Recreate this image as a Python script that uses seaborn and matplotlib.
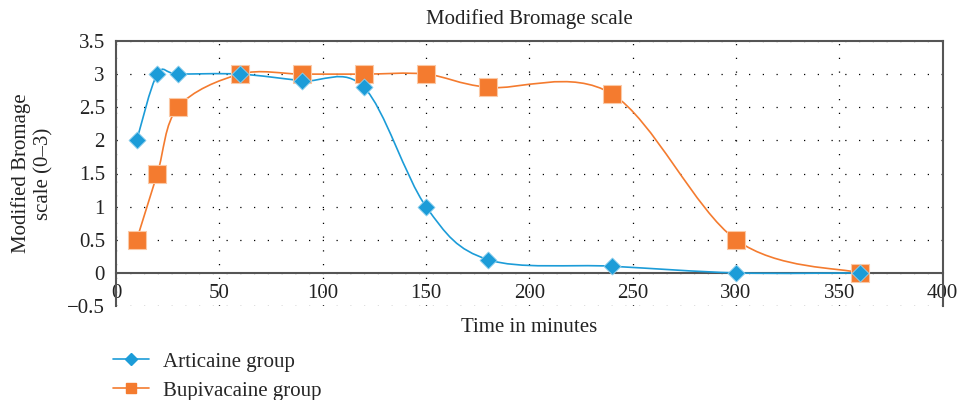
import numpy as np
import pandas as pd
import seaborn as sns
import matplotlib.pyplot as plt
from matplotlib.path import Path
from matplotlib.patches import PathPatch
from matplotlib.lines import Line2D

# data
art_time = [10, 20, 30, 60, 90, 120, 150, 180, 240, 300, 360]
art_score = [2, 3, 3, 3, 2.9, 2.8, 1, 0.2, 0.1, 0, 0]
bup_time = [10, 20, 30, 60, 90, 120, 150, 180, 240, 300, 360]
bup_score = [0.5, 1.5, 2.5, 3, 3, 3, 3, 2.8, 2.7, 0.5, 0]

BLUE = '#1c9cd8'
ORANGE = '#f47b2f'
TXT = '#222222'
FS = 15

sns.set_style('white')
plt.rcParams['font.family'] = ['Liberation Serif', 'DejaVu Serif']


def smooth_path(x, y):
    # Excel-style smoothed line: cubic Bezier through the points
    pts = np.column_stack([x, y]).astype(float)
    verts = [pts[0]]
    codes = [Path.MOVETO]
    n = len(pts)
    for i in range(n - 1):
        p0 = pts[i - 1] if i > 0 else pts[i]
        p1 = pts[i]
        p2 = pts[i + 1]
        p3 = pts[i + 2] if i + 2 < n else pts[i + 1]
        c1 = p1 + (p2 - p0) / 6
        c2 = p2 - (p3 - p1) / 6
        verts += [c1, c2, p2]
        codes += [Path.CURVE4] * 3
    return Path(verts, codes)


df = pd.concat([
    pd.DataFrame({'Time': art_time, 'Score': art_score, 'Group': 'Articaine group'}),
    pd.DataFrame({'Time': bup_time, 'Score': bup_score, 'Group': 'Bupivacaine group'}),
])

fig = plt.figure(figsize=(9.59, 4.0), dpi=100)
ax = fig.add_axes([0.121, 0.235, 0.862, 0.6625])

# smoothed lines
for x, y, c in [(art_time, art_score, BLUE), (bup_time, bup_score, ORANGE)]:
    ax.add_patch(PathPatch(smooth_path(x, y), facecolor='none', edgecolor=c, lw=1.2, zorder=3))

# markers
sns.scatterplot(data=df[df.Group == 'Bupivacaine group'], x='Time', y='Score', marker='s',
                s=150, color=ORANGE, edgecolor='#fbc9a6', linewidth=0.8, ax=ax, zorder=4, legend=False)
sns.scatterplot(data=df[df.Group == 'Articaine group'], x='Time', y='Score', marker='D',
                s=75, color=BLUE, edgecolor='#8fd0ee', linewidth=0.6, ax=ax, zorder=5, legend=False)

ax.set_xlim(0, 400)
ax.set_ylim(-0.5, 3.5)
ax.set_xticks(range(0, 401, 50))
ax.set_yticks(np.arange(-0.5, 3.51, 0.5))
ax.set_yticklabels(['\u22120.5', '0', '0.5', '1', '1.5', '2', '2.5', '3', '3.5'])
ax.grid(True, color='black', linestyle=(0, (1, 10)), linewidth=0.9)
ax.set_axisbelow(True)

ax.spines['bottom'].set_position(('data', 0))
for s in ['left', 'bottom', 'top', 'right']:
    ax.spines[s].set_color('#555555')
    ax.spines[s].set_linewidth(1.5)
ax.tick_params(axis='both', labelsize=FS, colors=TXT, length=4, direction='out', pad=4)
ax.tick_params(axis='x', direction='inout', length=6, pad=5)
for lab in ax.get_xticklabels() + ax.get_yticklabels():
    lab.set_color(TXT)

ax.set_title('Modified Bromage scale', fontsize=FS, color=TXT, pad=12)
ax.set_xlabel('Time in minutes', fontsize=FS, color=TXT, labelpad=4)
ax.xaxis.set_label_coords(0.5, -0.045)
ax.set_ylabel('Modified Bromage\nscale (0\u20133)', fontsize=FS, color=TXT, labelpad=10)

handles = [
    Line2D([], [], color=BLUE, marker='D', markersize=6, lw=1.2, label='Articaine group'),
    Line2D([], [], color=ORANGE, marker='s', markersize=7, lw=1.2, label='Bupivacaine group'),
]
fig.legend(handles=handles, loc='upper left', bbox_to_anchor=(0.118, 0.12), frameon=False,
           fontsize=FS, handlelength=1.7, handletextpad=0.7, labelspacing=0.45, borderaxespad=0,
           borderpad=0)

plt.savefig('out.png', dpi=100)
